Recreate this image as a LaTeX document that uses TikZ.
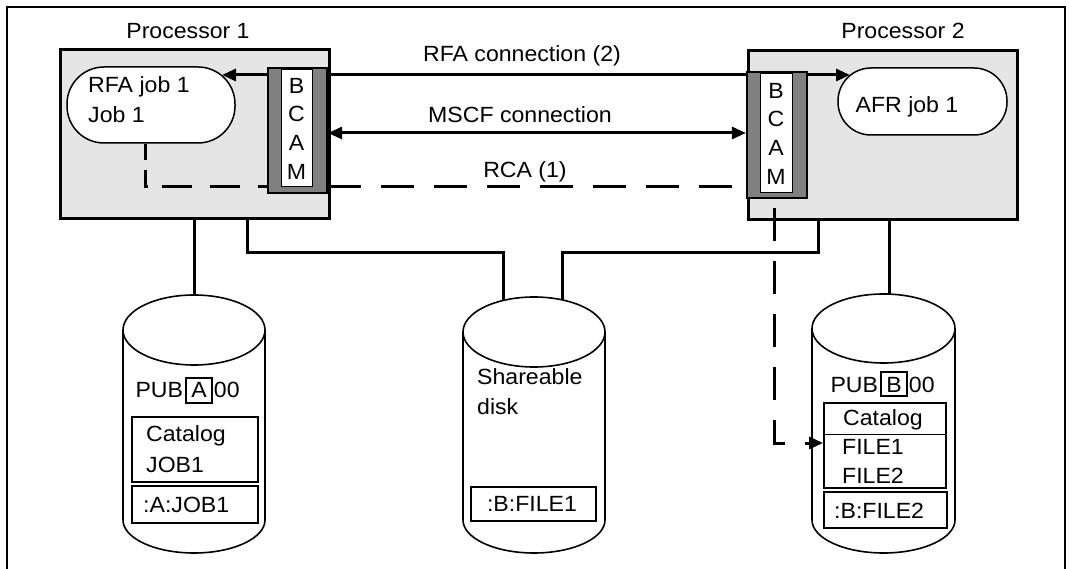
\documentclass[tikz,border=0pt]{standalone}
\usepackage{fontspec}
\setmainfont{Liberation Sans}[FakeStretch=1.05]
\usetikzlibrary{arrows.meta}
\definecolor{procgray}{HTML}{E5E5E5}
\definecolor{bcamgray}{HTML}{808080}

\begin{document}
\begin{tikzpicture}[x=1pt,y=-1pt,
  font=\fontsize{22}{28.7}\selectfont,
  frameline/.style={line width=1.3pt},
  procbox/.style={draw, line width=3pt, fill=procgray, minimum width=269pt, minimum height=169pt, inner sep=0},
  bcamouter/.style={draw, line width=2.2pt, fill=bcamgray, inner sep=0},
  bcaminner/.style={draw, line width=1pt, fill=white, inner sep=0, align=center},
  jobbox/.style={draw, line width=1.5pt, fill=white, inner sep=0},
  link/.style={line width=3pt},
  dashlink/.style={line width=3pt, dash pattern=on 33pt off 20pt},
  tip/.style={-{Triangle[length=14pt,width=12pt]}},
  tips/.style={{Triangle[length=14pt,width=12pt]}-{Triangle[length=14pt,width=12pt]}},
  disk/.style={line width=1.6pt, fill=white},
  filebox/.style={draw, line width=1.9pt, inner sep=0},
  lbl/.style={inner sep=0}
]
\useasboundingbox (0,0) rectangle (1069,569);

% outer frame (open at the bottom)
\draw[frameline] (7,569) -- (7,7) -- (1065,7) -- (1065,569);

% processors
\node[procbox] (proc1) at (194.5,134.5) {};
\node[procbox] (proc2) at (882.5,135.5) {};
\node[lbl, anchor=base] (proc1lbl) at (188,39) {Processor 1};
\node[lbl, anchor=base] (proc2lbl) at (903,39) {Processor 2};

% BCAM blocks
\node[bcamouter, minimum width=59pt, minimum height=125pt] (bcam1) at (297.5,130.5) {};
\node[bcaminner, minimum width=31pt, minimum height=117pt] (bcam1in) at (296.5,128.5) {B\\C\\A\\M};
\node[bcamouter, minimum width=60pt, minimum height=126pt] (bcam2) at (777,135) {};
\node[bcaminner, minimum width=32pt, minimum height=119pt] (bcam2in) at (776,133.5) {B\\C\\A\\M};

% jobs
\node[jobbox, rounded corners=37pt, minimum width=168pt, minimum height=76pt] (rfajob) at (151,105) {};
\node[lbl, anchor=base west] (rfajoba) at (88,93) {RFA job 1};
\node[lbl, anchor=base west] (rfajobb) at (88,123) {Job 1};
\node[jobbox, rounded corners=33pt, minimum width=169pt, minimum height=67pt] (afrjob) at (922.5,101.5) {};
\node[lbl, anchor=base] (afrtext) at (907,113) {AFR job 1};

% connection labels
\node[lbl, anchor=base] (rfalbl) at (522,62) {RFA connection (2)};
\node[lbl, anchor=base] (mscflbl) at (520,123) {MSCF connection};
\node[lbl, anchor=base] (rcalbl) at (525,178) {RCA (1)};

% connection end points
\coordinate (rfarow) at (0,75);
\coordinate (rfain) at (222,75);
\coordinate (afrin) at (850,75);
\coordinate (mscfrow) at (0,133);
\coordinate (rcaL) at (145,187);
\coordinate (rcaB) at (774,443);

% RFA connection
\draw[link] (bcam1.east |- rfarow) -- (bcam2.west |- rfarow);
\draw[link,tip] (bcam1.west |- rfarow) -- (rfain);
\draw[link,tip] (bcam2.east |- rfarow) -- (afrin);
% MSCF connection
\draw[link,tips] (bcam1.east |- mscfrow) -- (bcam2.west |- mscfrow);
% RCA
\draw[dashlink, dash pattern=on 16pt off 10pt on 20pt off 14pt on 30pt off 18pt on 30pt off 18pt] (rfajob.south -| rcaL) -- (rcaL) -- (rcaL -| bcam1.west);
\draw[dashlink] (bcam1.east |- rcaL) -- (bcam2.west |- rcaL);

% disks
\path[disk,draw] (123,330) -- (123,520) arc[start angle=180, end angle=360, x radius=71pt, y radius=33pt] -- (265,330);
\draw[disk] (194,330) ellipse [x radius=71pt, y radius=35pt];
\path[disk,draw] (463,332) -- (463,520) arc[start angle=180, end angle=360, x radius=71pt, y radius=33pt] -- (605,332);
\draw[disk] (534,332) ellipse [x radius=71pt, y radius=35pt];
\path[disk,draw] (812,328.5) -- (812,520) arc[start angle=180, end angle=360, x radius=71.5pt, y radius=33pt] -- (955,328.5);
\draw[disk] (883.5,328.5) ellipse [x radius=71.5pt, y radius=34.5pt];

\coordinate (diskAtop) at (194,295);
\coordinate (shL) at (503,300.5);
\coordinate (shR) at (562,300);
\coordinate (diskBtop) at (889,294);
\coordinate (busL) at (247,253);
\coordinate (busR) at (818,253);

% channels to the disks
\draw[link] (proc1.south -| diskAtop) -- (diskAtop);
\draw[link] (proc1.south -| busL) -- (busL) -- (busL -| shL) -- (shL);
\draw[link] (shR) -- (shR |- busR) -- (busR) -- (proc2.south -| busR);
\draw[link] (proc2.south -| diskBtop) -- (diskBtop);

% disk A contents
\node[filebox, line width=1.5pt, minimum width=26pt, minimum height=25pt] (volA) at (199,390.5) {};
\node[lbl, anchor=base] (volAch) at (199,398) {A};
\node[lbl, anchor=base east] (pubA) at ([xshift=-2pt]volA.west |- volAch.base) {PUB};
\node[lbl, anchor=base west] (zeroA) at ([xshift=1pt]volA.east |- volAch.base) {00};
\node[filebox, minimum width=126pt, minimum height=65pt] (catA) at (195,449.5) {};
\node[lbl, anchor=base west] (catAa) at (146,442) {Catalog};
\node[lbl, anchor=base west] (catAb) at (146,472) {JOB1};
\node[filebox, minimum width=126pt, minimum height=37pt] (fileA) at (195,504.5) {};
\node[lbl, anchor=base west] (fileAtxt) at (143,512) {:A:JOB1};

% shareable disk contents
\node[lbl, anchor=base west] (sha) at (477,385) {Shareable};
\node[lbl, anchor=base west] (shb) at (477,415) {disk};
\node[filebox, minimum width=125pt, minimum height=34pt] (fileS) at (533.5,504) {};
\node[lbl, anchor=base] (fileStxt) at (532,511) {:B:FILE1};

% disk B contents
\node[filebox, line width=1.5pt, minimum width=26pt, minimum height=24pt] (volB) at (894,384) {};
\node[lbl, anchor=base] (volBch) at (894,392) {B};
\node[lbl, anchor=base east] (pubB) at ([xshift=-2pt]volB.west |- volBch.base) {PUB};
\node[lbl, anchor=base west] (zeroB) at ([xshift=1pt]volB.east |- volBch.base) {00};
\node[filebox, minimum width=122pt, minimum height=85pt] (catB) at (885,445.5) {};
\draw[line width=1pt] (catB.west |- 0,434) -- (catB.east |- 0,434);
\node[lbl, anchor=base] (catBa) at (883,425) {Catalog};
\node[lbl, anchor=base west] (catBb) at (842,454) {FILE1};
\node[lbl, anchor=base west] (catBc) at (842,483) {FILE2};
\node[filebox, minimum width=123pt, minimum height=36pt] (fileB) at (885.5,510) {};
\node[lbl, anchor=base west] (fileBtxt) at (834,518) {:B:FILE2};

% remote catalog access into disk B
\draw[dashlink, dash phase=38pt, tip] (bcam2in.south -| rcaB) -- (rcaB) -- (catB.west |- rcaB);
\end{tikzpicture}
\end{document}
